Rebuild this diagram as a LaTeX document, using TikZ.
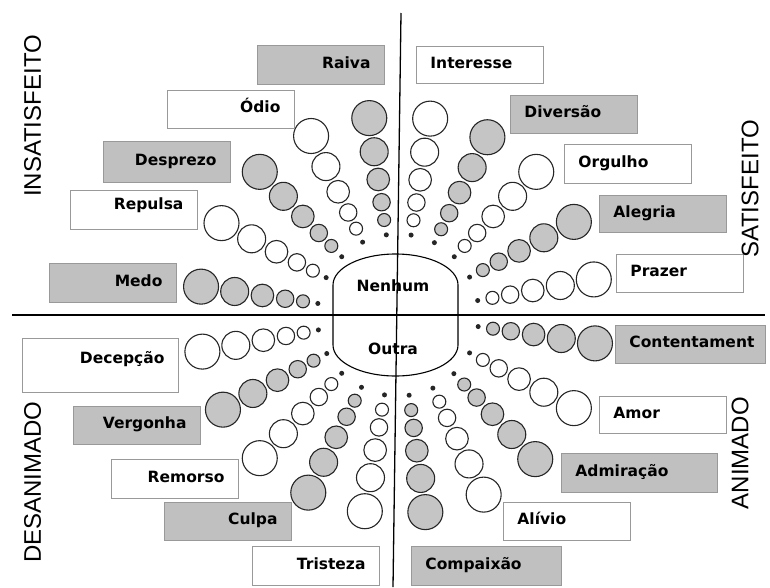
\documentclass[tikz,border=0pt]{standalone}
\usepackage{fontspec}
\setmainfont{DejaVu Sans}
\newfontfamily\axisfont{Liberation Sans}
\definecolor{boxgrey}{RGB}{192,192,192}
\definecolor{bubgrey}{RGB}{197,197,197}

\begin{document}
\begin{tikzpicture}
[
    x=1pt, y=-1pt,
    emo/.style={draw=black!40, line width=0.9pt, anchor=north west, inner xsep=14pt, inner ysep=0pt,
        minimum height=38pt, text width=99pt, text height=11pt, text depth=4pt,
        font=\fontsize{15.5}{18}\selectfont\bfseries},
    lft/.style={emo, align=right},
    rgt/.style={emo, align=left},
    shade/.style={fill=boxgrey},
    bubble/.style={draw=black!85, line width=1.1pt},
    axislbl/.style={font=\axisfont\fontsize{24}{28}\selectfont, rotate=90, inner sep=0pt},
]
\useasboundingbox (0,0) rectangle (770,587);
\coordinate (wc) at (398,315);

\foreach \a/\c in {10.3/white, 27.9/bubgrey, 46/white, 63.3/bubgrey, 80.7/white,
                   98.3/bubgrey, 115.9/white, 134/bubgrey, 152.5/white, 171.8/bubgrey,
                   190.6/white, 208.4/bubgrey, 226/white, 243.2/bubgrey, 260.4/white,
                   277.9/bubgrey, 295.5/white, 313.6/bubgrey, 332.1/white, 351.8/bubgrey}
{
    \fill[black!85] (wc) ++(-\a:81) circle (2.5pt);
    \foreach \d/\s in {96/6.5, 114/8.7, 137/11.3, 165/14, 199/17.5}
        \draw[bubble, fill=\c] (wc) ++(-\a:\d) circle (\s pt);
}

\draw[line width=1.1pt, fill=white] (333,345) -- (333,285)
    arc[start angle=180, end angle=360, x radius=62.5, y radius=31]
    -- (458,345)
    arc[start angle=0, end angle=180, x radius=62.5, y radius=31] -- cycle;
\node[font=\fontsize{15.5}{18}\selectfont\bfseries] (nenhum) at (393,286) {Nenhum};
\node[font=\fontsize{15.5}{18}\selectfont\bfseries] (outra) at (393,349) {Outra};

\draw[line width=1.8pt] (12,315) -- (765,315);
\draw[line width=1.3pt] (401,13) -- (393,587);

\node[lft, shade, minimum height=39pt] (raiva) at (257,45) {Raiva};
\node[lft] (odio) at (167,90) {Ódio};
\node[lft, shade, minimum height=41pt] (desprezo) at (103,141) {Desprezo};
\node[lft, minimum height=39pt, text depth=11pt] (repulsa) at (70,190) {Repulsa};
\node[lft, shade, minimum height=39pt] (medo) at (49,263) {Medo};

\node[rgt, minimum height=37pt] (interesse) at (416,46) {Interesse};
\node[rgt, shade] (diversao) at (510,95) {Diversão};
\node[rgt, minimum height=39pt] (orgulho) at (564,144) {Orgulho};
\node[rgt, shade, minimum height=37pt] (alegria) at (599,195) {Alegria};
\node[rgt] (prazer) at (616,254) {Prazer};

\node[lft, text width=128pt, minimum height=54pt, text depth=14pt] (decepcao) at (22,338) {Decepção};
\node[lft, shade] (vergonha) at (73,406) {Vergonha};
\node[lft, minimum height=39pt] (remorso) at (111,459) {Remorso};
\node[lft, shade] (culpa) at (164,502) {Culpa};
\node[lft, minimum height=39pt] (tristeza) at (252,546) {Tristeza};

\node[rgt, shade, text width=122pt] (contentament) at (615,325) {Contentament};
\node[rgt, minimum height=37pt] (amor) at (599,396) {Amor};
\node[rgt, shade, text width=128pt, minimum height=39pt] (admiracao) at (561,453) {Admiração};
\node[rgt] (alivio) at (503,502) {Alívio};
\node[rgt, shade, text width=122pt, minimum height=39pt] (compaixao) at (411,546) {Compaixão};

\node[axislbl] (insatisfeito) at (32.5,116) {INSATISFEITO};
\node[axislbl] (satisfeito) at (750,189) {SATISFEITO};
\node[axislbl] (desanimado) at (32.5,482) {DESANIMADO};
\node[axislbl] (animado) at (740,453) {ANIMADO};
\end{tikzpicture}
\end{document}
